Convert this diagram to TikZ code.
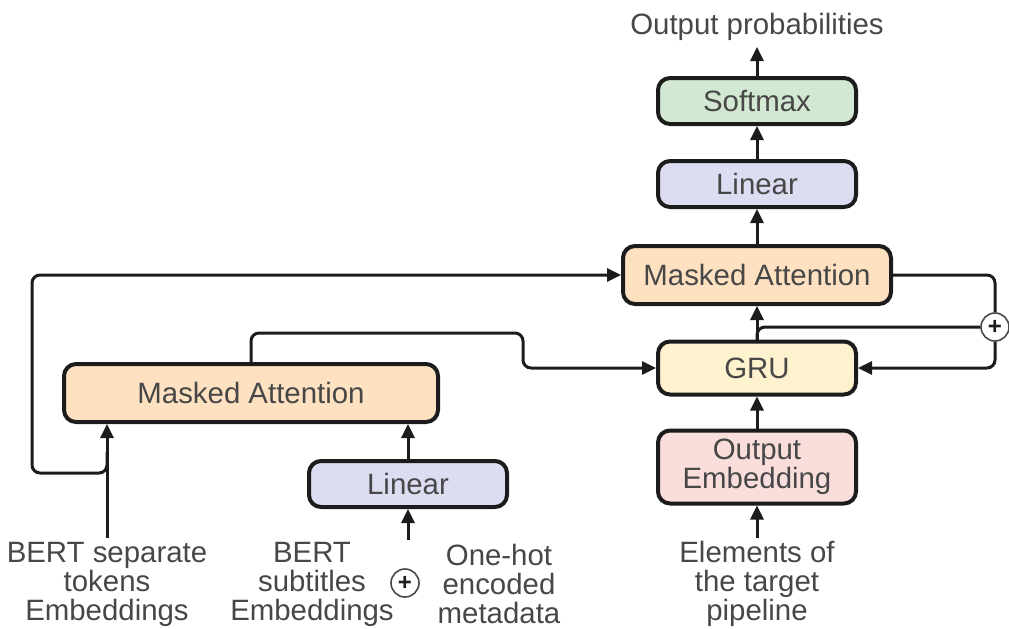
\documentclass[tikz,border=0pt]{standalone}
\usepackage{fontspec}
\setmainfont{Liberation Sans}
\usetikzlibrary{arrows.meta}
\definecolor{txtgray}{HTML}{474747}
\definecolor{linegray}{HTML}{1C1C1C}
\definecolor{smgreen}{HTML}{D3E8D2}
\definecolor{linblue}{HTML}{DDDDF2}
\definecolor{attorange}{HTML}{FDE1C0}
\definecolor{gruyellow}{HTML}{FEF3CE}
\definecolor{embpink}{HTML}{FADEDC}
\newcommand{\boxfont}{\fontsize{14.7pt}{14.5pt}\selectfont}

\begin{document}
\begin{tikzpicture}[x=0.5pt, y=-0.5pt,
    box/.style={draw=linegray, line width=2pt, rounded corners=6pt,
        minimum width=99pt, minimum height=23pt, inner sep=0pt,
        text=txtgray, font=\boxfont, align=center},
    caption/.style={text=txtgray, font=\boxfont, align=center, inner sep=0pt},
    plus/.style={draw=linegray!80, circle, line width=0.8pt, minimum size=14pt,
        inner sep=0pt, fill=white, text=linegray,
        font=\fontsize{12pt}{12pt}\selectfont\bfseries},
    arr/.style={draw=linegray, line width=1.5pt, -{Triangle[length=7pt,width=6.5pt]}},
    wire/.style={draw=linegray, line width=1.5pt, rounded corners=4pt}]
    \useasboundingbox (0,0) rectangle (1009,628);

    % decoder column
    \node[caption] (probs) at (757,27) {Output probabilities};
    \node[box, fill=smgreen] (softmax) at (757,101) {Softmax};
    \node[box, fill=linblue] (linA) at (757,184) {Linear};
    \node[box, fill=attorange, minimum width=134pt, minimum height=29pt] (attA) at (757,275) {Masked Attention};
    \node[box, fill=gruyellow, minimum height=26.5pt] (gru) at (757,368) {GRU};
    \node[box, fill=embpink, minimum height=36.5pt] (emb) at (757,467) {Output\\Embedding};
    \node[caption] (elems) at (757,584) {Elements of\\the target\\pipeline};

    % encoder side
    \node[box, fill=attorange, minimum width=187pt, minimum height=29pt] (attB) at (251,393) {Masked Attention};
    \node[box, fill=linblue] (linB) at (408,484) {Linear};
    \node[caption] (septok) at (107,584) {BERT separate\\tokens\\Embeddings};
    \node[caption] (subs) at (312,584) {BERT\\subtitles\\Embeddings};
    \node[caption] (meta) at (499,584) {One-hot\\encoded\\metadata};
    \node[plus] (addB) at (405,583) {+};
    \node[plus] (addA) at (995,327) {+};

    \coordinate (inB) at (408,540);
    \coordinate (sepIn) at (107,538);
    \coordinate (elemIn) at (757,538);
    \coordinate (probIn) at (757,47);

    % straight arrows
    \draw[arr] (softmax) -- (probIn);
    \draw[arr] (linA) -- (softmax);
    \draw[arr] (attA) -- (linA);
    \draw[arr] (gru) -- (attA);
    \draw[arr] (emb) -- (gru);
    \draw[arr] (elemIn) -- (emb);
    \draw[arr] (sepIn) -- (sepIn |- attB.south);
    \draw[arr] (linB.north) -- (linB.north |- attB.south);
    \draw[arr] (inB) -- (linB.south);

    % skip connections
    \draw[wire, arr] (107,452) |- (32,473) |- (attA.west);
    \draw[wire, arr] (attB.north) |- (523,333) |- (gru.west);
    \draw[wire] (attA.east) -| (addA.north);
    \draw[wire, arr] (addA.south) |- (gru.east);
    \draw[wire] (addA.west) -| (757,342);
\end{tikzpicture}
\end{document}
